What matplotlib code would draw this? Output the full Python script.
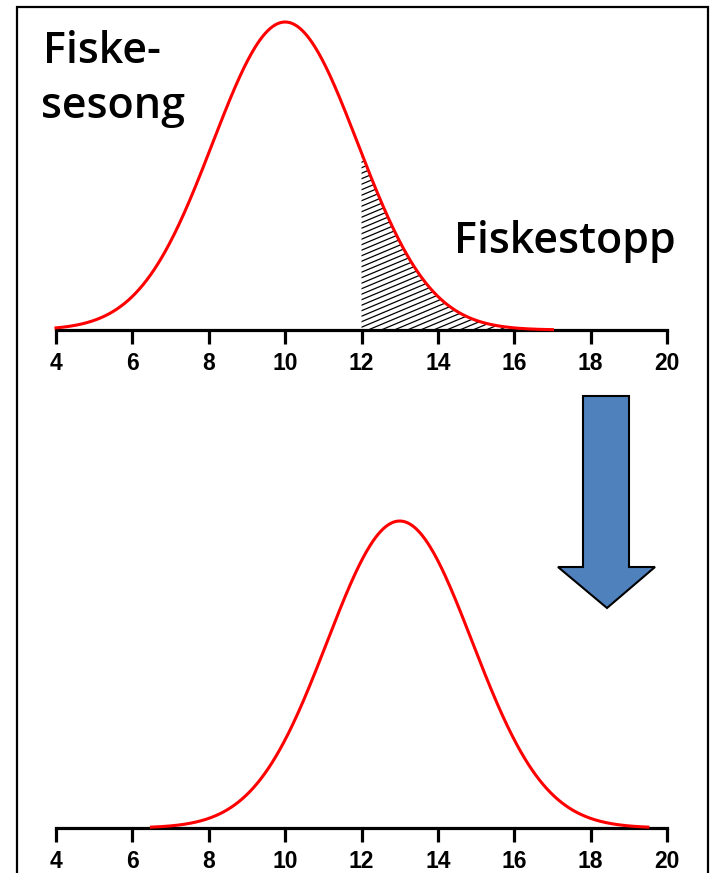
import numpy as np
import matplotlib.pyplot as plt
from matplotlib.patches import Rectangle, Polygon

# -----------------------------------
# DATA
# -----------------------------------

tick_values = [4, 6, 8, 10, 12, 14, 16, 18, 20]

# fishing season before: normal curve
mean_before = 10.0
sd_before = 1.9
range_before = [4.0, 17.0]

# closed fishing part (hatched)
stop_start = 12.0
stop_end = 17.0

# fishing season after: shifted curve
mean_after = 13.0
sd_after = 1.9
range_after = [6.5, 19.5]

label_season = ["Fiske-", "sesong"]
label_stop = "Fiskestopp"

W, H = 714, 873
RED = "#ff0000"
BLUE = "#4f81bd"


def norm_curve(mean, sd, x):
    return np.exp(-0.5 * ((x - mean) / sd) ** 2)


def setup_axis(ax):
    ax.set_xlim(4, 20)
    ax.set_ylim(0, 1.0)
    for s in ["top", "right", "left"]:
        ax.spines[s].set_visible(False)
    ax.spines["bottom"].set_linewidth(2.3)
    ax.set_xticks(tick_values)
    ax.set_yticks([])
    ax.tick_params(axis="x", length=10, width=2.3, pad=6,
                   labelsize=16.5)
    for lab in ax.get_xticklabels():
        lab.set_fontweight("bold")
        lab.set_fontfamily("Liberation Sans")
    ax.patch.set_alpha(0)


fig = plt.figure(figsize=(W / 100, H / 100), dpi=100)

# outer frame
fig.patches.append(Rectangle((17 / W, -0.05), (708 - 17) / W, 1.05 - 7 / H,
                             transform=fig.transFigure, fill=False,
                             edgecolor="black", linewidth=1.6))

# -----------------------------------
# TOP PANEL
# -----------------------------------

ax1 = fig.add_axes([56 / W, 1 - 330 / H, 611 / W, (330 - 22) / H])
setup_axis(ax1)

x1 = np.linspace(range_before[0], range_before[1], 400)
y1 = norm_curve(mean_before, sd_before, x1)

# hatched tail with shallow diagonal lines
xs = np.linspace(stop_start, stop_end, 200)
ys = norm_curve(mean_before, sd_before, xs)
verts = [(stop_start, 0)] + list(zip(xs, ys)) + [(stop_end, 0)]
poly = Polygon(verts, closed=True, facecolor="white", edgecolor="none")
ax1.add_patch(poly)

px_x = 611 / 16.0
px_y = (330 - 22) / 1.0
slope = 0.42 * px_x / px_y
step = 5.5 / px_y
for c in np.arange(-slope * 6, 1.2, step):
    lx = np.array([stop_start, stop_end])
    ly = c + slope * (lx - stop_start)
    ln, = ax1.plot(lx, ly, color="black", linewidth=0.9)
    ln.set_clip_path(poly)

ax1.plot(x1, y1, color=RED, linewidth=2.2, clip_on=False, zorder=3)

# -----------------------------------
# BOTTOM PANEL
# -----------------------------------

ax2 = fig.add_axes([56 / W, 1 - 828 / H, 611 / W, (828 - 521) / H])
setup_axis(ax2)

x2 = np.linspace(range_after[0], range_after[1], 400)
y2 = norm_curve(mean_after, sd_after, x2)
ax2.plot(x2, y2, color=RED, linewidth=2.2, clip_on=False, zorder=3)

# -----------------------------------
# TEXT AND ARROW
# -----------------------------------

txt = dict(fontsize=31, family="Open Sans", fontweight="semibold",
           ha="left", va="baseline")
fig.text(43 / W, 1 - 63 / H, label_season[0], **txt)
fig.text(41 / W, 1 - 118 / H, label_season[1], **txt)
fig.text(454 / W, 1 - 253 / H, label_stop, **txt)

arrow_px = [(583, 396), (629, 396), (629, 567), (655, 567), (607, 608),
            (558, 567), (583, 567)]
arrow = Polygon([(px / W, 1 - py / H) for px, py in arrow_px], closed=True,
                transform=fig.transFigure, facecolor=BLUE,
                edgecolor="black", linewidth=1.5)
fig.patches.append(arrow)

plt.savefig("out.png", dpi=100)
